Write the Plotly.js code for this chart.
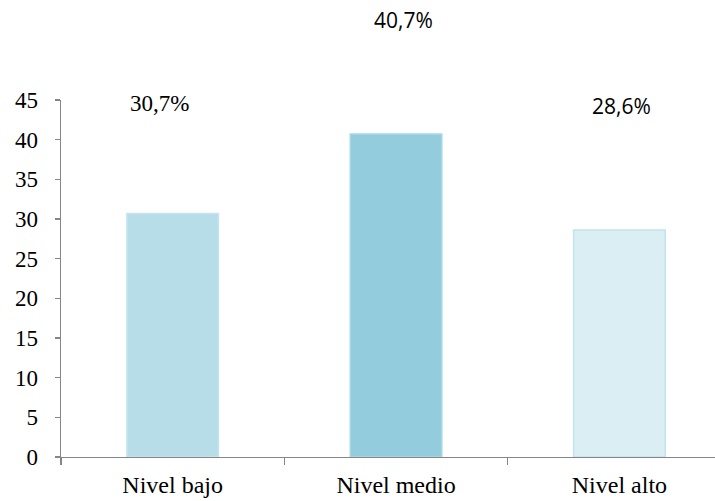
<!DOCTYPE html>
<html><head><meta charset="utf-8">
<script src="https://cdn.plot.ly/plotly-3.0.1.min.js"></script>
<style>html,body{margin:0;padding:0;overflow:hidden;background:#fff}</style>
</head><body><div id="chart" style="width:715px;height:501px"></div>
<script>
const categories = ["Nivel bajo", "Nivel medio", "Nivel alto"];
const values = [30.7, 40.7, 28.6];
const labels = ["30,7%", "40,7%", "28,6%"];
const barColors = ["#b7dde8", "#93cddd", "#dbeef3"];
const edgeColors = ["#c6e4ee", "#a9d7e4", "#c3e3ec"];
const labelY = [44.6, 55.1, 44.2];
const labelShift = [-13, 7, 2];
const SERIF = "Times New Roman, Liberation Serif, DejaVu Serif, serif";
const SANS = "Open Sans, Liberation Sans, sans-serif";
const labelFonts = [SERIF, SANS, SANS];
const labelSizes = [23, 21, 21];
const yMax = 45;

const trace = {
  type: "bar",
  x: categories,
  y: values,
  width: 0.41,
  marker: {color: barColors, line: {color: edgeColors, width: 1.5}},
  hoverinfo: "none"
};

const annotations = categories.map((c, i) => ({
  x: c, y: labelY[i] / yMax, xref: "x", yref: "paper",
  xanchor: "center", yanchor: "middle",
  text: labels[i], showarrow: false, xshift: labelShift[i],
  font: {family: labelFonts[i], size: labelSizes[i], color: "#000"}
}));

const layout = {
  width: 715, height: 501,
  margin: {l: 61, r: 0, t: 100, b: 44, pad: 0},
  paper_bgcolor: "#fff", plot_bgcolor: "#fff",
  showlegend: false,
  font: {family: SERIF},
  xaxis: {
    type: "category",
    range: [-0.5, 2.428],
    showline: true, linecolor: "#868686", linewidth: 1.3,
    ticks: "outside", tickson: "boundaries", ticklen: 7, tickcolor: "#868686", tickwidth: 1.3,
    showgrid: false, zeroline: false,
    tickfont: {family: SERIF, size: 24, color: "#000"},
    ticklabelstandoff: 6
  },
  yaxis: {
    range: [0, yMax], dtick: 5, tick0: 0,
    showline: true, linecolor: "#868686", linewidth: 1.3,
    ticks: "outside", ticklen: 5, tickcolor: "#868686", tickwidth: 1.3,
    showgrid: false, zeroline: false,
    tickfont: {family: SERIF, size: 23, color: "#000"},
    ticklabelstandoff: 12
  },
  annotations: annotations
};

Plotly.newPlot("chart", [trace], layout, {displayModeBar: false, staticPlot: true});
</script></body></html>
